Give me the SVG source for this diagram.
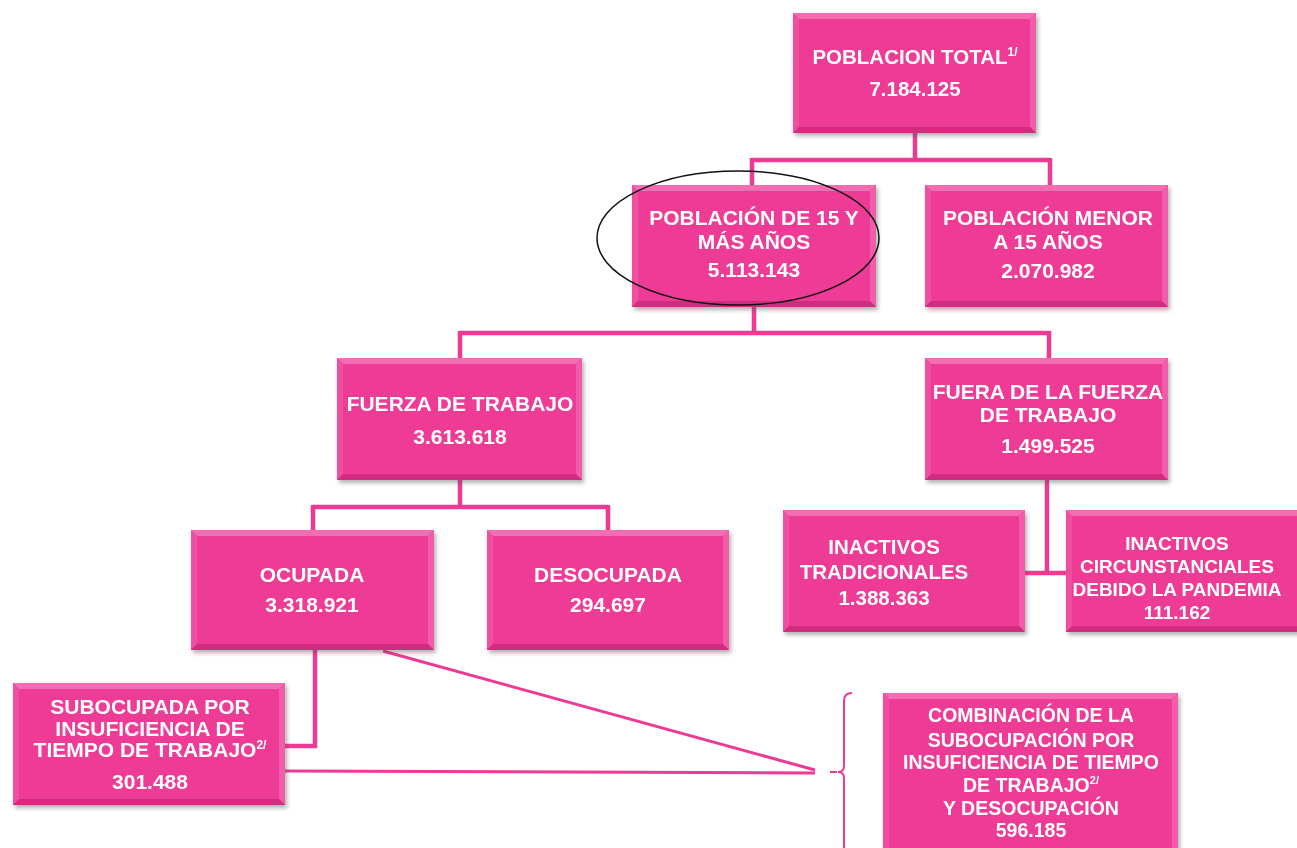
<svg xmlns="http://www.w3.org/2000/svg" width="1297" height="848" viewBox="0 0 1297 848">
<style>
.face{fill:#EE3A95}
.bt{fill:#F46DB3}
.bl{fill:#F0509F}
.br{fill:#F25CA8}
.bb{fill:#CF2E80}
.t{font-family:"Liberation Sans",Arial,sans-serif;font-weight:bold;fill:#FFFFFF;text-anchor:middle}
.conn{fill:none;stroke:#EE3A95;stroke-width:4.5;stroke-linejoin:miter}
.thin{fill:none;stroke:#EE3A95;stroke-width:3}
.brace{fill:none;stroke:#EE3A95;stroke-width:2}
</style>
<defs>
<filter id="sh" x="-10%" y="-10%" width="125%" height="130%">
<feDropShadow dx="2" dy="3" stdDeviation="2" flood-color="#555" flood-opacity="0.45"/>
</filter>
</defs>
<rect x="0" y="0" width="1297" height="848" fill="#FFFFFF"/>

<g id="connectors">
<path class="conn" d="M915,133 V160 M752,160 H1050 M752,158 V185 M1050,158 V185"/>
<path class="conn" d="M754,307 V333 M460,333 H1049 M460,331 V358 M1049,331 V358"/>
<path class="conn" d="M460,480 V507 M313,507 H608 M313,505 V530 M608,505 V530"/>
<path class="conn" d="M1047,480 V572 M1025,573 H1066"/>
<path class="conn" d="M315,650 V746 H285"/>
<path class="thin" d="M383,651 L815,770"/>
<path class="thin" d="M285,771 L815,773"/>
<path class="brace" d="M830,772 H837 M852,693 Q844,693 844,701 V766 Q844,772 838,772 Q844,772 844,778 V848"/>
</g>

<g id="n1" filter="url(#sh)">
<rect class="face" x="793" y="13" width="243" height="120"/>
<polygon class="bt" points="793,13 1036,13 1030,19 799,19"/>
<polygon class="bl" points="793,13 799,19 799,127 793,133"/>
<polygon class="br" points="1036,13 1036,133 1030,127 1030,19"/>
<polygon class="bb" points="793,133 1036,133 1030,127 799,127"/>
<text class="t" x="915" y="64" font-size="20.5">POBLACION TOTAL<tspan font-size="12" dy="-8">1/</tspan></text>
<text class="t" x="915" y="96" font-size="20.5">7.184.125</text>
</g>

<g id="n2" filter="url(#sh)">
<rect class="face" x="632" y="185" width="244" height="122"/>
<polygon class="bt" points="632,185 876,185 870,191 638,191"/>
<polygon class="bl" points="632,185 638,191 638,301 632,307"/>
<polygon class="br" points="876,185 876,307 870,301 870,191"/>
<polygon class="bb" points="632,307 876,307 870,301 638,301"/>
<text class="t" x="754" y="225" font-size="21">POBLACIÓN DE 15 Y</text>
<text class="t" x="754" y="249" font-size="21">MÁS AÑOS</text>
<text class="t" x="754" y="277" font-size="21">5.113.143</text>
</g>
<ellipse id="highlight" cx="738" cy="238" rx="141" ry="67" fill="none" stroke="#111" stroke-width="1.5"/>

<g id="n3" filter="url(#sh)">
<rect class="face" x="925" y="185" width="243" height="122"/>
<polygon class="bt" points="925,185 1168,185 1162,191 931,191"/>
<polygon class="bl" points="925,185 931,191 931,301 925,307"/>
<polygon class="br" points="1168,185 1168,307 1162,301 1162,191"/>
<polygon class="bb" points="925,307 1168,307 1162,301 931,301"/>
<text class="t" x="1048" y="225" font-size="21">POBLACIÓN MENOR</text>
<text class="t" x="1048" y="249" font-size="21">A 15 AÑOS</text>
<text class="t" x="1048" y="278" font-size="21">2.070.982</text>
</g>

<g id="n4" filter="url(#sh)">
<rect class="face" x="337" y="358" width="245" height="122"/>
<polygon class="bt" points="337,358 582,358 576,364 343,364"/>
<polygon class="bl" points="337,358 343,364 343,474 337,480"/>
<polygon class="br" points="582,358 582,480 576,474 576,364"/>
<polygon class="bb" points="337,480 582,480 576,474 343,474"/>
<text class="t" x="460" y="411" font-size="21">FUERZA DE TRABAJO</text>
<text class="t" x="460" y="444" font-size="21">3.613.618</text>
</g>

<g id="n5" filter="url(#sh)">
<rect class="face" x="925" y="358" width="243" height="122"/>
<polygon class="bt" points="925,358 1168,358 1162,364 931,364"/>
<polygon class="bl" points="925,358 931,364 931,474 925,480"/>
<polygon class="br" points="1168,358 1168,480 1162,474 1162,364"/>
<polygon class="bb" points="925,480 1168,480 1162,474 931,474"/>
<text class="t" x="1048" y="399" font-size="21">FUERA DE LA FUERZA</text>
<text class="t" x="1048" y="422" font-size="21">DE TRABAJO</text>
<text class="t" x="1048" y="453" font-size="21">1.499.525</text>
</g>

<g id="n6" filter="url(#sh)">
<rect class="face" x="191" y="530" width="243" height="120"/>
<polygon class="bt" points="191,530 434,530 428,536 197,536"/>
<polygon class="bl" points="191,530 197,536 197,644 191,650"/>
<polygon class="br" points="434,530 434,650 428,644 428,536"/>
<polygon class="bb" points="191,650 434,650 428,644 197,644"/>
<text class="t" x="312" y="582" font-size="21">OCUPADA</text>
<text class="t" x="312" y="612" font-size="21">3.318.921</text>
</g>

<g id="n7" filter="url(#sh)">
<rect class="face" x="487" y="530" width="242" height="120"/>
<polygon class="bt" points="487,530 729,530 723,536 493,536"/>
<polygon class="bl" points="487,530 493,536 493,644 487,650"/>
<polygon class="br" points="729,530 729,650 723,644 723,536"/>
<polygon class="bb" points="487,650 729,650 723,644 493,644"/>
<text class="t" x="608" y="582" font-size="21">DESOCUPADA</text>
<text class="t" x="608" y="612" font-size="21">294.697</text>
</g>

<g id="n8" filter="url(#sh)">
<rect class="face" x="783" y="510" width="242" height="122"/>
<polygon class="bt" points="783,510 1025,510 1019,516 789,516"/>
<polygon class="bl" points="783,510 789,516 789,626 783,632"/>
<polygon class="br" points="1025,510 1025,632 1019,626 1019,516"/>
<polygon class="bb" points="783,632 1025,632 1019,626 789,626"/>
<text class="t" x="884" y="554" font-size="20.5">INACTIVOS</text>
<text class="t" x="884" y="579" font-size="20.5">TRADICIONALES</text>
<text class="t" x="884" y="605" font-size="20.5">1.388.363</text>
</g>

<g id="n9" filter="url(#sh)">
<rect class="face" x="1066" y="510" width="240" height="122"/>
<polygon class="bt" points="1066,510 1306,510 1300,516 1072,516"/>
<polygon class="bl" points="1066,510 1072,516 1072,626 1066,632"/>
<polygon class="bb" points="1066,632 1306,632 1300,626 1072,626"/>
<text class="t" x="1177" y="550" font-size="19">INACTIVOS</text>
<text class="t" x="1177" y="573" font-size="19">CIRCUNSTANCIALES</text>
<text class="t" x="1177" y="596" font-size="19">DEBIDO LA PANDEMIA</text>
<text class="t" x="1177" y="619" font-size="19">111.162</text>
</g>

<g id="n10" filter="url(#sh)">
<rect class="face" x="13" y="683" width="272" height="122"/>
<polygon class="bt" points="13,683 285,683 279,689 19,689"/>
<polygon class="bl" points="13,683 19,689 19,799 13,805"/>
<polygon class="br" points="285,683 285,805 279,799 279,689"/>
<polygon class="bb" points="13,805 285,805 279,799 19,799"/>
<text class="t" x="150" y="714" font-size="21">SUBOCUPADA POR</text>
<text class="t" x="150" y="736" font-size="21">INSUFICIENCIA DE</text>
<text class="t" x="150" y="757" font-size="21">TIEMPO DE TRABAJO<tspan font-size="12" dy="-8">2/</tspan></text>
<text class="t" x="150" y="789" font-size="21">301.488</text>
</g>

<g id="n11" filter="url(#sh)">
<rect class="face" x="883" y="693" width="295" height="177"/>
<polygon class="bt" points="883,693 1178,693 1172,699 889,699"/>
<polygon class="bl" points="883,693 889,699 889,864 883,870"/>
<polygon class="br" points="1178,693 1178,870 1172,864 1172,699"/>
<text class="t" x="1031" y="722" font-size="19.5">COMBINACIÓN DE LA</text>
<text class="t" x="1031" y="747" font-size="19.5">SUBOCUPACIÓN POR</text>
<text class="t" x="1031" y="769" font-size="19.5">INSUFICIENCIA DE TIEMPO</text>
<text class="t" x="1031" y="792" font-size="19.5">DE TRABAJO<tspan font-size="11" dy="-8">2/</tspan></text>
<text class="t" x="1031" y="815" font-size="19.5">Y DESOCUPACIÓN</text>
<text class="t" x="1031" y="837" font-size="19.5">596.185</text>
</g>
</svg>
